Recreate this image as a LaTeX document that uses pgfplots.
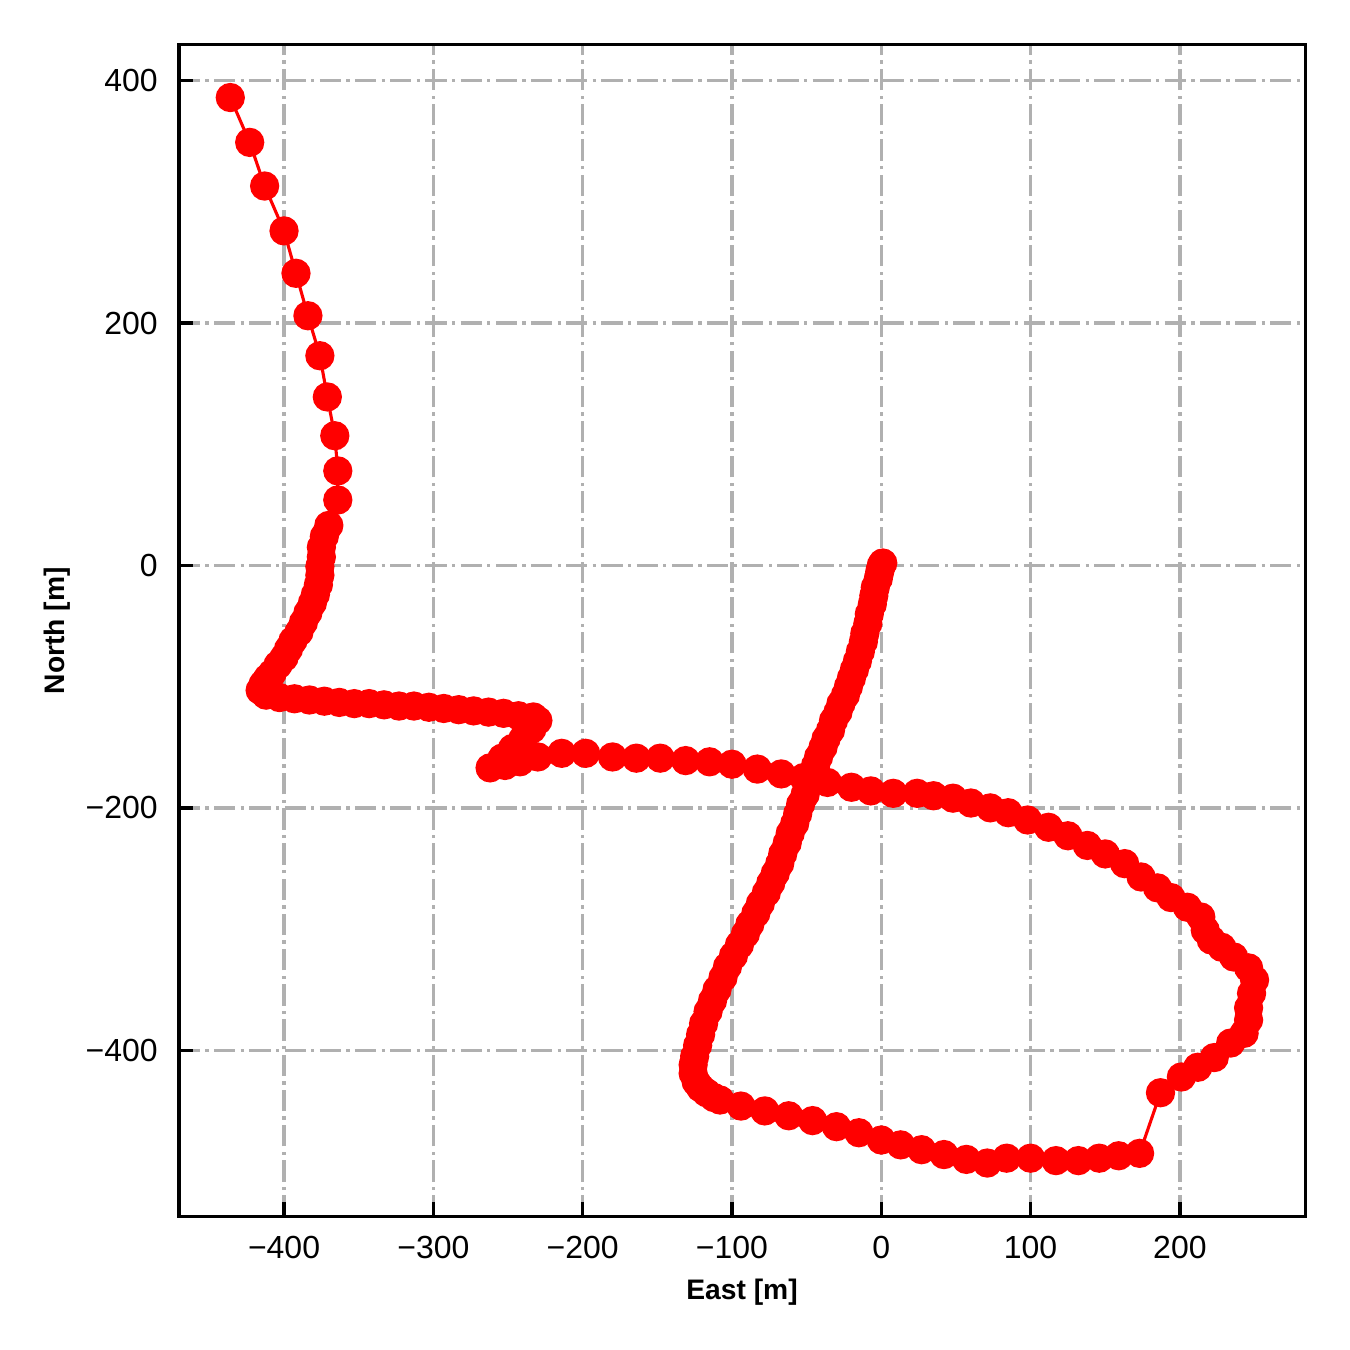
\documentclass[border=0pt]{standalone}
\usepackage{fontspec}
\setmainfont{Liberation Sans}
\usepackage{pgfplots}
\pgfplotsset{compat=1.18}
\definecolor{gridgray}{RGB}{176,176,176}

\begin{document}
\begin{tikzpicture}
\begin{axis}[
    scale only axis, width=271.3pt, height=282.3pt,
    xmin=-470.4, xmax=283.9, ymin=-537.3, ymax=429.5,
    axis line style={line width=0.8pt},
    tick pos=left, tick align=inside,
    major tick length=3.5pt,
    every tick/.style={black, line width=0.8pt},
    xtick={-400,-300,-200,-100,0,100,200},
    xticklabels={−400,−300,−200,−100,0,100,200},
    ytick={-400,-200,0,200,400},
    yticklabels={−400,−200,0,200,400},
    ticklabel style={font=\fontsize{7.7}{9}\selectfont},
    xticklabel style={yshift=-1.1pt},
    yticklabel style={xshift=-1.6pt},
    grid=major,
    major grid style={gridgray, line width=0.8pt, dash pattern=on 5.12pt off 1.28pt on 0.8pt off 1.28pt},
    xlabel={East [m]}, ylabel={North [m]},
    label style={font=\fontsize{6.8}{8}\selectfont\bfseries},
    xlabel style={at={(axis description cs:0.5,-0.0708)}, anchor=base},
    ylabel style={at={(axis description cs:-0.1012,0.5)}, anchor=base},
]
\addplot[red, line width=0.75pt, mark=*, mark size=3.15pt,
         mark options={solid, fill=red, draw=red}] coordinates {
    % diagonal from the origin
    (0,0)(1,2)(-1,-5)(-2,-11)(-4,-18)(-5,-25)(-6,-32)(-8,-40)(-9,-48)
    (-11,-56)(-12,-63)(-14,-71)(-16,-79)(-18,-86)(-20,-93)(-22,-100)
    (-24,-107)(-27,-114)(-29,-121)(-32,-128)(-34,-136)(-37,-143)(-39,-150)
    (-42,-158)(-44,-165)(-47,-173)(-49,-181)(-51,-189)(-54,-197)(-56,-205)
    (-58,-213)(-61,-221)(-63,-229)(-66,-238)(-68,-246)(-71,-254)(-74,-262)
    (-77,-270)(-81,-279)(-84,-287)(-88,-296)(-91,-304)(-95,-313)(-99,-322)
    (-103,-331)(-106,-340)(-110,-350)(-113,-359)(-116,-368)(-119,-378)
    (-121,-387)(-123,-396)(-125,-405)(-126,-412)(-126,-419)(-124,-426)
    (-121,-431)(-117,-435)(-112,-439)
    % bottom edge
    (-108,-441)(-94,-446)(-78,-450)(-62,-454)(-46,-458)(-30,-463)(-15,-468)
    (0,-474)(13,-478)(27,-482)(42,-486)(57,-490)(71,-493)(84,-489)(100,-489)
    (117,-491)(132,-491)(146,-489)(159,-487)(173,-485)
    % right side and upper loop
    (187,-435)(201,-422)(212,-414)(223,-406)(234,-394)(243,-386)(246,-375)
    (246,-365)(248,-353)(250,-342)(246,-332)(236,-323)(228,-315)(221,-309)
    (217,-301)(214,-290)(205,-282)(194,-274)(185,-266)(174,-257)(163,-246)
    (150,-238)(138,-231)(125,-223)(112,-216)(98,-210)(85,-204)(73,-200)
    (60,-196)(48,-192)(35,-190)(24,-188)(8,-188)(-7,-186)(-20,-183)
    (-36,-179)(-52,-175)(-67,-172)(-83,-168)(-100,-164)(-115,-162)
    (-131,-161)(-148,-159)(-164,-159)(-180,-158)(-198,-155)(-214,-155)
    (-230,-158)(-242,-162)(-252,-165)(-262,-167)(-254,-159)(-247,-151)
    (-240,-143)(-234,-135)(-230,-128)
    % upper straight stretch
    (-233,-125)(-243,-124)(-253,-122)(-263,-121)(-273,-120)(-283,-119)
    (-293,-118)(-303,-117)(-313,-116)(-323,-116)(-333,-115)(-343,-114)
    (-353,-114)(-363,-113)(-373,-112)(-383,-111)(-393,-110)(-403,-109)
    (-412,-107)(-416,-103)
    % left side going north
    (-414,-98)(-411,-93)(-408,-89)(-404,-82)(-400,-76)(-397,-69)(-394,-62)
    (-390,-55)(-387,-47)(-384,-39)(-381,-31)(-379,-24)(-377,-16)(-376,-8)
    (-376,-1)(-375,7)(-375,15)(-373,24)(-370,33)(-364,54)(-364,78)
    (-366,107)(-371,139)(-376,173)(-384,206)(-392,241)(-400,276)
    (-413,313)(-423,349)(-436,386)
};
\end{axis}
\path ([shift={(-43.1pt,-32pt)}]current axis.south west)
    rectangle ([shift={(10.8pt,10.8pt)}]current axis.north east);
\end{tikzpicture}
\end{document}
